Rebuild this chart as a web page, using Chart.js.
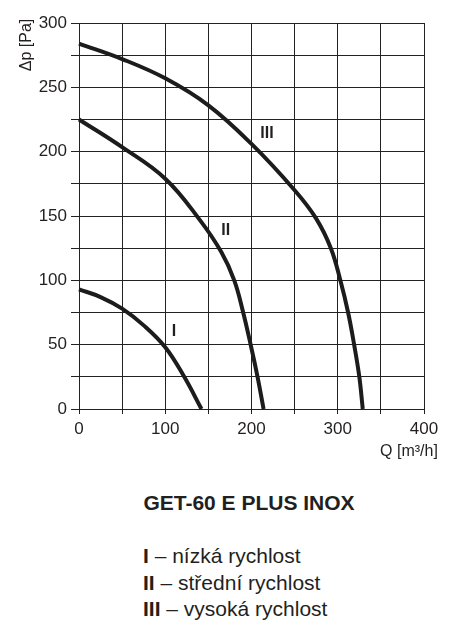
<!DOCTYPE html>
<html>
<head>
<meta charset="utf-8">
<script src="https://cdn.jsdelivr.net/npm/chart.js@4/dist/chart.umd.min.js"></script>
<style>
  html, body { margin: 0; padding: 0; background: #fff; }
  body { width: 454px; height: 636px; position: relative; overflow: hidden; font-family: "Liberation Sans", Arial, sans-serif; color: #231f20; }
  #wrap { position: absolute; left: 0; top: 0; width: 454px; height: 470px; }
  #title { position: absolute; left: 0; width: 454px; top: 491px; text-align: center; padding-left: 44px; box-sizing: border-box; font-weight: bold; font-size: 21px; line-height: 24px; }
  #legend { position: absolute; left: 143px; top: 543px; font-size: 21px; line-height: 26.5px; white-space: nowrap; }
  #legend b { font-weight: bold; }
</style>
</head>
<body>
<div id="wrap"><canvas id="c"></canvas></div>
<div id="title">GET-60 E PLUS INOX</div>
<div id="legend">
  <div><b>I</b> – nízká rychlost</div>
  <div><b>II</b> – střední rychlost</div>
  <div><b>III</b> – vysoká rychlost</div>
</div>
<script>
// ---- data ----
const curveNames = ['I', 'II', 'III'];
const flowI   = [0, 25, 50, 75, 100, 122, 142];
const pressI  = [93, 87, 78, 65, 48, 25, 0];
const flowII  = [0, 50, 100, 140, 165, 180, 190, 199, 207, 214];
const pressII = [225, 203.5, 179, 147, 122, 100, 76, 50, 25, 0];
const flowIII  = [0, 50, 100, 150, 200, 250, 275, 292, 303, 312, 319, 325, 329];
const pressIII = [284, 272, 257, 236, 206, 170, 148, 125, 100, 75, 50, 25, 0];
const labelFlow  = [110, 170, 218];
const labelPress = [60, 139, 214];
const xTicksLabelled = [0, 100, 200, 300, 400];
const yTicksLabelled = [0, 50, 100, 150, 200, 250, 300];
const xTitle = 'Q [m³/h]';
const yTitle = 'Δp [Pa]';

const ink = '#231f20';
const curveColor = '#1c1c1c';

function pts(xs, ys) { return xs.map((x, i) => ({ x: x, y: ys[i] })); }
const series = [pts(flowI, pressI), pts(flowII, pressII), pts(flowIII, pressIII)];

const extras = {
  id: 'extras',
  afterDatasetsDraw(chart) {
    const ctx = chart.ctx, xs = chart.scales.x, ys = chart.scales.y;
    ctx.save();
    ctx.fillStyle = ink;
    ctx.font = 'bold 16px "Liberation Sans", Arial, sans-serif';
    ctx.textAlign = 'center';
    ctx.textBaseline = 'middle';
    curveNames.forEach((n, i) => {
      ctx.fillText(n, xs.getPixelForValue(labelFlow[i]), ys.getPixelForValue(labelPress[i]));
    });
    ctx.font = '16px "Liberation Sans", Arial, sans-serif';
    ctx.save();
    ctx.translate(27, 45);
    ctx.rotate(-Math.PI / 2);
    ctx.fillText(yTitle, 0, 0);
    ctx.restore();
    ctx.fillText(xTitle, 409, 452);
    ctx.restore();
  }
};

new Chart(document.getElementById('c'), {
  type: 'line',
  data: {
    datasets: series.map((d, i) => ({
      label: curveNames[i],
      data: d,
      borderColor: curveColor,
      borderWidth: 4,
      pointRadius: 0,
      fill: false,
      tension: 0.4,
      clip: 6
    }))
  },
  options: {
    responsive: true,
    maintainAspectRatio: false,
    animation: false,
    events: [],
    layout: { padding: { top: 23, right: 30, left: 0, bottom: 0 } },
    plugins: { legend: { display: false }, tooltip: { enabled: false }, title: { display: false } },
    scales: {
      x: {
        type: 'linear', min: 0, max: 400,
        afterFit(s) { s.height = 61; },
        ticks: {
          stepSize: 50, autoSkip: false, maxRotation: 0,
          color: ink, padding: 5,
          font: { family: '"Liberation Sans", Arial, sans-serif', size: 17 },
          callback: v => xTicksLabelled.includes(v) ? String(v) : ''
        },
        grid: { color: '#222', lineWidth: 1, tickLength: 5, drawTicks: true },
        border: { color: '#222', width: 1 }
      },
      y: {
        type: 'linear', min: 0, max: 300,
        afterFit(s) { s.width = 79; },
        ticks: {
          stepSize: 25, autoSkip: false,
          color: ink, padding: 4,
          font: { family: '"Liberation Sans", Arial, sans-serif', size: 17 },
          callback: v => yTicksLabelled.includes(v) ? String(v) : ''
        },
        grid: { color: '#222', lineWidth: 1, tickLength: 8, drawTicks: true },
        border: { color: '#222', width: 1 }
      }
    }
  },
  plugins: [extras]
});
</script>
</body>
</html>
